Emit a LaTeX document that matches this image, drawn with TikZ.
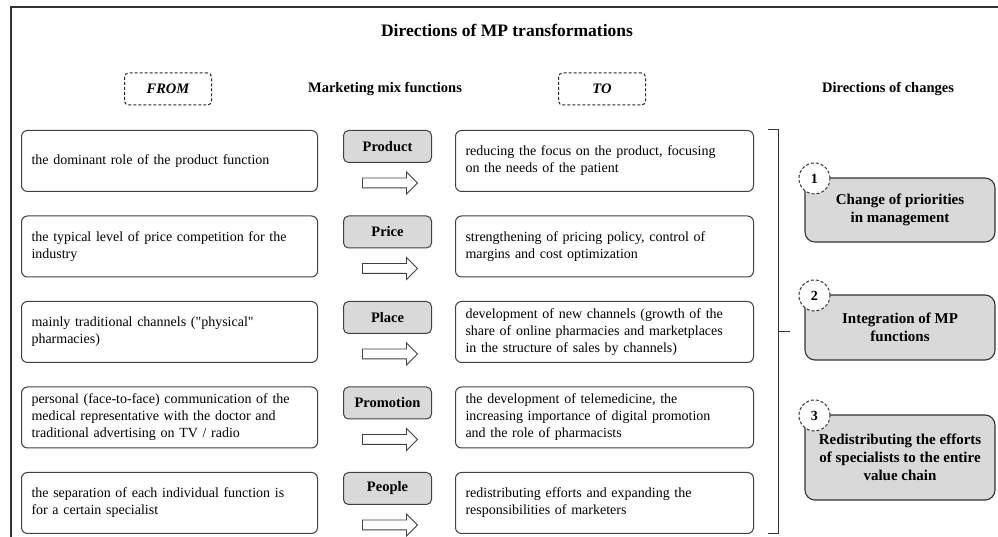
\documentclass[tikz,border=0pt]{standalone}
\usepackage{fontspec}
\setmainfont{Liberation Serif}
\usetikzlibrary{positioning, calc, shapes.arrows}

\begin{document}
\begin{tikzpicture}[
    x=1pt, y=1pt,
    node distance=23.5pt,
    txtbox/.style={
        draw=black!75,
        line width=1pt,
        rounded corners=6pt,
        minimum height=61pt,
        inner xsep=10pt,
        align=left,
        font=\fontsize{14}{17}\selectfont
    },
    frombox/.style={txtbox, text width=276pt},
    tobox/.style={txtbox, text width=278pt},
    mixbox/.style={
        draw=black!75,
        line width=1pt,
        rounded corners=5pt,
        fill=black!15,
        minimum width=88pt,
        minimum height=32pt,
        inner sep=2pt,
        anchor=north,
        font=\bfseries\fontsize{14.5}{17}\selectfont
    },
    headbox/.style={
        draw=black!85,
        line width=1pt,
        dash pattern=on 3pt off 2pt,
        rounded corners=4pt,
        minimum width=87pt,
        minimum height=32pt,
        font=\bfseries\itshape\fontsize{14.5}{17}\selectfont
    },
    headtext/.style={font=\bfseries\fontsize{14.5}{17}\selectfont},
    shiftarrow/.style={
        single arrow,
        draw=black!75,
        fill=white,
        line width=0.9pt,
        minimum width=0pt,
        inner xsep=0pt,
        inner ysep=4.5pt,
        minimum height=55pt,
        single arrow head extend=6pt,
        single arrow tip angle=90
    },
    dirbox/.style={
        draw=black!80,
        line width=1.1pt,
        rounded corners=10pt,
        fill=black!15,
        minimum width=190pt,
        align=center,
        font=\bfseries\fontsize{15}{18}\selectfont
    },
    numcircle/.style={
        circle,
        draw=black!80,
        dash pattern=on 3pt off 2pt,
        line width=1pt,
        fill=white,
        minimum size=31pt,
        inner sep=0pt,
        font=\bfseries\fontsize{14}{16}\selectfont
    },
    bracket/.style={draw=black!80, line width=1pt}
]
\useasboundingbox (0,0) rectangle (998,537);

% Cadre
\draw[line width=1.6pt, black!80] (11,0) -- (11,530) -- (998,530);

% Titres
\node[font=\bfseries\fontsize{17.5}{21}\selectfont] (title) at (507,507) {Directions of MP transformations};
\node[headbox] (from) at (168,448) {FROM};
\node[headtext] (mixhead) at (385,448) {Marketing mix functions};
\node[headbox] (to) at (602,448) {TO};
\node[headtext] (dirhead) at (888,448) {Directions of changes};

% Colonne FROM
\node[frombox, anchor=north west] (from1) at (21,407) {the dominant role of the product function};
\node[frombox, below=of from1] (from2) {the typical level of price competition for the\\industry};
\node[frombox, below=of from2] (from3) {mainly traditional channels (\textquotedbl physical\textquotedbl\\pharmacies)};
\node[frombox, below=of from3] (from4) {personal (face-to-face) communication of the\\medical representative with the doctor and\\traditional advertising on TV / radio};
\node[frombox, below=of from4] (from5) {the separation of each individual function is\\for a certain specialist};

% Colonne TO
\node[tobox, anchor=north west] (to1) at (455,407) {reducing the focus on the product, focusing\\on the needs of the patient};
\node[tobox, below=of to1] (to2) {strengthening of pricing policy, control of\\margins and cost optimization};
\node[tobox, below=of to2] (to3) {development of new channels (growth of the\\share of online pharmacies and marketplaces\\in the structure of sales by channels)};
\node[tobox, below=of to3] (to4) {the development of telemedicine, the\\increasing importance of digital promotion\\and the role of pharmacists};
\node[tobox, below=of to4] (to5) {redistributing efforts and expanding the\\responsibilities of marketers};

% Fonctions du mix
\foreach \i/\name in {1/Product, 2/Price, 3/Place, 4/Promotion, 5/People} {
    \node[mixbox] (mix\i) at ($(from\i.north east)!0.5!(to\i.north west)+(1,0)$) {\name};
    \node[shiftarrow] (arr\i) at ([yshift=-20pt]mix\i.south) {};
}

% Accolade
\coordinate (brtop) at ([xshift=24pt]to1.north east);
\coordinate (brbot) at ([xshift=24pt]to5.south east);
\draw[bracket] ([xshift=-10pt]brtop) -- (brtop) -- (brbot) -- ([xshift=-10pt]brbot);
\draw[bracket] (brtop |- to3.center) -- ++(12,0);

% Directions des changements
\node[dirbox, minimum height=64pt] (dir1) at (900,327) {Change of priorities\\in management};
\node[dirbox, minimum height=65pt] (dir2) at (900,209.5) {Integration of MP\\functions};
\node[dirbox, minimum height=85pt] (dir3) at (900,79.5) {Redistributing the efforts\\of specialists to the entire\\value chain};

\foreach \i in {1,2,3}
    \node[numcircle] (num\i) at ([shift={(10pt,-1pt)}]dir\i.north west) {\i};

\end{tikzpicture}
\end{document}
